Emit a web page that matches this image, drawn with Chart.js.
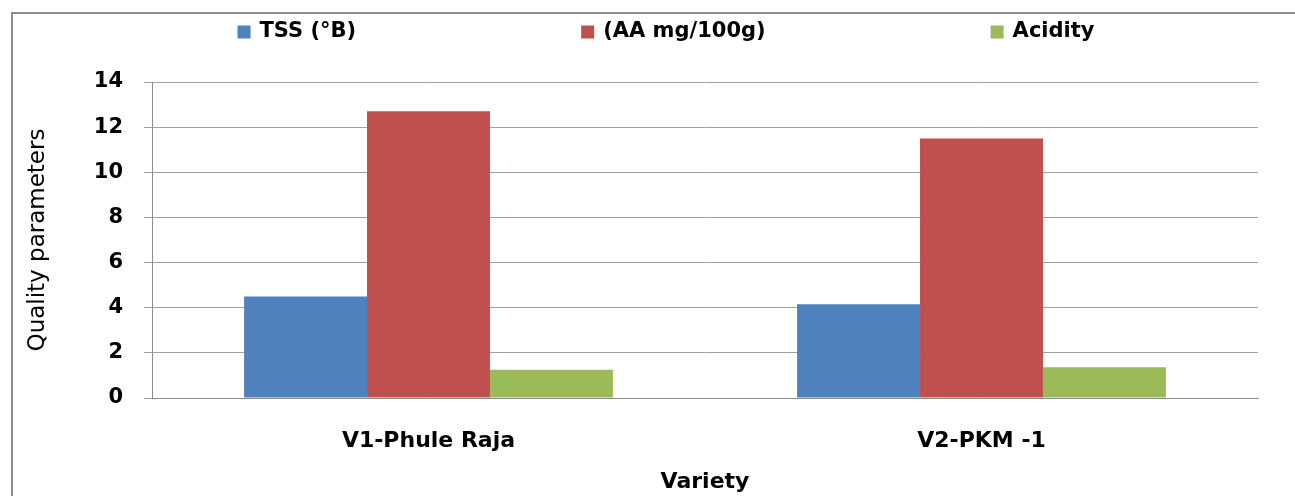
<!DOCTYPE html>
<html>
<head>
<meta charset="utf-8">
<script src="https://cdn.jsdelivr.net/npm/chart.js@4.4.0/dist/chart.umd.min.js"></script>
<style>
  html, body { margin: 0; padding: 0; background: #fff; }
  #wrap { position: relative; width: 1295px; height: 496px; overflow: hidden; }
  #frame { position: absolute; left: 11px; top: 12px; width: 1400px; height: 600px; border: 2px solid #8c8c8c; }
  canvas { position: absolute; left: 0; top: 0; }
</style>
</head>
<body>
<div id="wrap">
  <div id="frame"></div>
  <canvas id="chart" width="1295" height="496"></canvas>
</div>
<script>
const varieties = ["V1-Phule Raja", "V2-PKM -1"];
const tss = [4.5, 4.15];
const ascorbicAcid = [12.7, 11.5];
const acidity = [1.25, 1.36];
const yTicks = [0, 2, 4, 6, 8, 10, 12, 14];

const font = "'DejaVu Sans', sans-serif";
const ctx = document.getElementById("chart").getContext("2d");

// Excel-style legend: items spread wide across the top
const spreadLegend = {
  id: "spreadLegend",
  afterDraw: (chart) => {
    const c = chart.ctx;
    const box = 13;
    const gap = 9;
    const spacing = 225;
    c.save();
    c.font = "bold 21px " + font;
    c.textBaseline = "middle";
    const items = chart.data.datasets.map((ds) => ({
      label: ds.label,
      color: ds.backgroundColor,
      w: box + gap + c.measureText(ds.label).width,
    }));
    const total = items.reduce((s, it) => s + it.w, 0) + spacing * (items.length - 1);
    let x = 666 - total / 2;
    const y = 32;
    items.forEach((it) => {
      c.fillStyle = it.color;
      c.fillRect(x, y - box / 2, box, box);
      c.fillStyle = "#000";
      c.fillText(it.label, x + box + gap, y);
      x += it.w + spacing;
    });
    c.restore();
  },
};

const chart = new Chart(ctx, {
  type: "bar",
  data: {
    labels: varieties,
    datasets: [
      { label: "TSS (°B)", data: tss, backgroundColor: "#4f81bd" },
      { label: "(AA mg/100g)", data: ascorbicAcid, backgroundColor: "#c0504d" },
      { label: "Acidity", data: acidity, backgroundColor: "#9bbb59" },
    ],
  },
  options: {
    responsive: false,
    animation: false,
    layout: { padding: { left: 0, right: 37, top: 82, bottom: 0 } },
    datasets: {
      bar: { categoryPercentage: 0.667, barPercentage: 1.0 },
    },
    scales: {
      x: {
        afterFit: (scale) => {
          scale.height = 98;
        },
        grid: { display: false },
        border: { color: "#8c8c8c", width: 1 },
        ticks: {
          color: "#000",
          font: { family: font, size: 22, weight: "bold" },
          padding: 22,
        },
        title: {
          display: true,
          text: "Variety",
          color: "#000",
          font: { family: font, size: 22, weight: "bold" },
          padding: { top: 0, bottom: 1 },
        },
      },
      y: {
        min: 0,
        max: 14,
        afterBuildTicks: (axis) => {
          axis.ticks = yTicks.map((v) => ({ value: v }));
        },
        afterFit: (scale) => {
          scale.width = 152;
        },
        grid: { color: "#a0a0a0", lineWidth: 1, tickLength: 8 },
        border: { color: "#8c8c8c", width: 1 },
        ticks: {
          autoSkip: false,
          color: "#000",
          font: { family: font, size: 21, weight: "bold" },
          padding: 21,
        },
        title: {
          display: true,
          text: "Quality parameters",
          color: "#000",
          font: { family: font, size: 23, weight: "normal" },
          padding: { top: 24, bottom: 24 },
        },
      },
    },
    plugins: {
      tooltip: { enabled: false },
      legend: { display: false },
    },
  },
  plugins: [spreadLegend],
});
</script>
</body>
</html>
